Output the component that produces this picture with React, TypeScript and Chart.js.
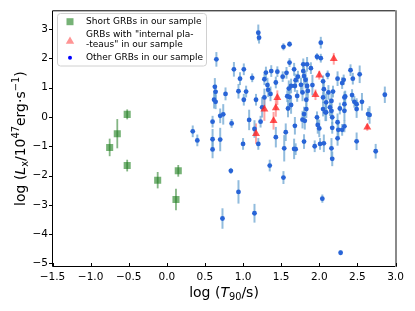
import { useEffect, useRef } from "react";
import { Chart, registerables } from "chart.js";
Chart.register(...registerables);

const FAMILY = "'DejaVu Sans', sans-serif";

// Axis limits & ticks
const xMin = -1.5;
const xMax = 3.0;
const xStep = 0.5;
const yMin = -5.11;
const yMax = 3.63;
const yStep = 1;

// Short GRBs (green squares)
const shortX = [-0.75, -0.65, -0.52, -0.52, -0.12, 0.12, 0.15];
const shortY = [-1.04, -0.57, 0.09, -1.66, -2.16, -2.82, -1.84];
const shortErr = [0.3, 0.5, 0.17, 0.2, 0.28, 0.37, 0.2];

// GRBs with internal plateaus (red triangles)
const plateauX = [2.19, 2.0, 1.95, 1.45, 1.43, 1.28, 1.4, 1.17, 2.63];
const plateauY = [1.99, 1.43, 0.76, 0.66, 0.31, 0.27, -0.13, -0.57, -0.35];
const plateauErr = [0.2, 0.15, 0.18, 0.25, 0.3, 0.4, 0.3, 0.35, 0.12];

// Other GRBs (blue dots)
const otherX = [
  1.2, 0.65, 0.88, 1.01, 0.96, 1.12, 0.63, 0.64, 0.77, 0.94, 1.04, 1.01, 1.17, 1.21, 1.53, 1.61,
  2.02, 1.97, 2.02, 1.61, 1.79, 1.84, 1.89, 2.11, 1.37, 1.3, 1.45, 1.67, 1.57, 1.52, 1.79, 1.8,
  1.72, 1.69, 1.76, 1.82, 1.84, 1.91, 2.05, 2.06, 1.28, 1.32, 1.43, 1.33, 1.6, 1.63, 1.68, 1.58,
  1.61, 1.71, 1.85, 1.78, 1.28, 1.36, 2.05, 2.12, 2.24, 2.3, 2.32, 2.41, 2.44, 2.53, 2.18, 2.34,
  2.43, 2.86, 0.34, 0.4, 0.62, 0.64, 0.6, 0.6, 0.6, 0.7, 0.74, 0.7, 0.85, 1.08, 1.0, 1.15,
  1.2, 1.25, 1.83, 1.23, 1.43, 1.56, 1.59, 1.63, 1.68, 1.67, 1.69, 1.54, 1.8, 1.78, 1.81, 1.8,
  1.83, 1.97, 1.98, 2.0, 1.94, 2.01, 2.06, 2.05, 2.08, 1.35, 2.09, 2.16, 2.14, 2.16, 2.09, 2.27,
  2.33, 2.33, 2.33, 2.46, 2.49, 2.56, 2.49, 2.17, 2.24, 2.17, 2.25, 2.3, 2.33, 2.24, 2.64, 2.66,
  2.49, 2.16, 2.17, 2.74, 0.84, 0.94, 0.73, 1.15, 1.53, 2.04, 2.28,
];
const otherY = [
  2.88, 1.97, 1.63, 1.63, 1.31, 1.34, 1.03, 0.86, 0.79, 0.88, 0.87, 0.59, 0.59, 2.71, 2.4, 2.49,
  2.54, 2.06, 2.01, 1.86, 1.8, 1.8, 1.67, 1.44, 1.57, 1.52, 1.55, 1.63, 1.51, 1.38, 1.57, 1.4,
  1.38, 1.26, 1.1, 1.27, 1.06, 1.09, 1.22, 0.95, 1.29, 1.09, 1.18, 0.93, 0.97, 1.06, 1.06, 0.71,
  0.68, 0.72, 0.89, 0.84, 0.67, 0.79, 0.67, 0.84, 1.31, 1.16, 1.27, 1.6, 1.31, 1.46, 0.87, 0.7,
  0.75, 0.76, -0.49, -0.8, 0.59, 0.52, -0.16, -0.76, -1.11, 0.04, 0.09, -0.77, -0.22, -0.1, -0.92, -0.41,
  -0.92, 0.33, 0.59, -0.16, -0.69, -0.52, 0.29, 0.41, -0.3, -1.09, -1.1, -1.07, -0.84, -0.09, -0.13, 0.1,
  0.27, -0.01, -0.27, -0.39, -1.0, -0.92, -0.9, 0.27, 0.16, -1.66, 0.5, 0.55, 0.33, 0.21, 0.16, 0.29,
  0.44, 0.67, 0.21, 0.52, 0.44, 0.52, 0.27, -0.01, -0.18, -0.37, -0.44, -0.44, -0.32, -0.73, 0.1, 0.07,
  -0.83, -1.07, -1.43, -1.17, -1.84, -2.56, -3.47, -3.29, -2.07, -2.79, -4.64,
];
const otherErr = [
  0.28, 0.25, 0.25, 0.2, 0.22, 0.15, 0.3, 0.25, 0.22, 0.25, 0.2, 0.2, 0.2, 0.2, 0.12, 0.1,
  0.2, 0.12, 0.15, 0.15, 0.2, 0.25, 0.2, 0.15, 0.2, 0.2, 0.18, 0.22, 0.2, 0.18, 0.25, 0.3,
  0.2, 0.22, 0.25, 0.3, 0.3, 0.35, 0.2, 0.3, 0.2, 0.25, 0.2, 0.25, 0.28, 0.25, 0.2, 0.2,
  0.3, 0.2, 0.25, 0.3, 0.3, 0.25, 0.2, 0.25, 0.25, 0.2, 0.18, 0.2, 0.2, 0.3, 0.2, 0.2,
  0.2, 0.28, 0.2, 0.2, 0.3, 0.25, 0.2, 0.35, 0.3, 0.25, 0.35, 0.4, 0.15, 0.35, 0.2, 0.3,
  0.2, 0.35, 0.35, 0.2, 0.35, 0.3, 0.3, 0.3, 0.3, 0.35, 0.2, 0.45, 0.25, 0.3, 0.3, 0.25,
  0.3, 0.2, 0.3, 0.3, 0.2, 0.2, 0.3, 0.25, 0.3, 0.2, 0.3, 0.25, 0.3, 0.25, 0.3, 0.2,
  0.25, 0.2, 0.35, 0.2, 0.2, 0.3, 0.3, 0.25, 0.3, 0.2, 0.25, 0.2, 0.2, 0.25, 0.2, 0.3,
  0.3, 0.35, 0.25, 0.25, 0.1, 0.4, 0.35, 0.32, 0.22, 0.14, 0.08,
];

const legendLabels = [
  ["Short GRBs in our sample"],
  ['GRBs with "internal pla-', '-teaus" in our sample'],
  ["Other GRBs in our sample"],
];

type Seg = { t: string; it?: boolean; sub?: boolean; sup?: boolean };
const xTitle: Seg[] = [{ t: "log (" }, { t: "T", it: true }, { t: "90", sub: true }, { t: "/s)" }];
const yTitle: Seg[] = [
  { t: "log (" },
  { t: "L", it: true },
  { t: "x", sub: true },
  { t: "/10" },
  { t: "47", sup: true },
  { t: "erg\u00b7s" },
  { t: "\u22121", sup: true },
  { t: ")" },
];

function drawRich(ctx: CanvasRenderingContext2D, segs: Seg[], size: number) {
  const fontFor = (s: Seg) =>
    `${s.it ? "italic " : ""}${s.sub || s.sup ? size * 0.7 : size}px ${FAMILY}`;
  let w = 0;
  for (const s of segs) {
    ctx.font = fontFor(s);
    w += ctx.measureText(s.t).width;
  }
  let x = -w / 2;
  ctx.textAlign = "left";
  ctx.textBaseline = "alphabetic";
  for (const s of segs) {
    ctx.font = fontFor(s);
    const dy = s.sub ? size * 0.2 : s.sup ? -size * 0.42 : 0;
    ctx.fillText(s.t, x, dy);
    x += ctx.measureText(s.t).width;
  }
}

const errorBarPlugin = {
  id: "errorBars",
  beforeDatasetsDraw(chart: any) {
    drawErrs(chart, false);
  },
  afterDatasetsDraw(chart: any) {
    drawErrs(chart, true);
  },
};

function drawErrs(chart: any, after: boolean) {
  const ctx = chart.ctx as CanvasRenderingContext2D;
  const xs = chart.scales.x;
  const ys = chart.scales.y;
  chart.data.datasets.forEach((ds: any) => {
    if (!ds.errs || !!ds.errAfter !== after) return;
    ctx.save();
    ctx.strokeStyle = ds.errColor;
    ctx.lineWidth = ds.errWidth;
    ds.data.forEach((p: any, i: number) => {
      const e = ds.errs[i];
      const px = xs.getPixelForValue(p.x);
      ctx.beginPath();
      ctx.moveTo(px, ys.getPixelForValue(p.y - e));
      ctx.lineTo(px, ys.getPixelForValue(p.y + e));
      ctx.stroke();
    });
    ctx.restore();
  });
}

const decorPlugin = {
  id: "decor",
  afterDraw(chart: any) {
    const ctx = chart.ctx as CanvasRenderingContext2D;
    const { left, right, top, bottom } = chart.chartArea;
    const xs = chart.scales.x;
    const ys = chart.scales.y;
    ctx.save();
    // frame
    ctx.strokeStyle = "#000";
    ctx.lineWidth = 1;
    ctx.beginPath();
    ctx.moveTo(left, top);
    ctx.lineTo(right, top);
    ctx.moveTo(left, top);
    ctx.lineTo(left, bottom);
    ctx.lineTo(right, bottom);
    ctx.stroke();
    ctx.strokeStyle = "#8a8a8a";
    ctx.lineWidth = 2;
    ctx.beginPath();
    ctx.moveTo(right + 0.5, top - 0.5);
    ctx.lineTo(right + 0.5, bottom + 0.5);
    ctx.stroke();
    // ticks
    ctx.strokeStyle = "#000";
    ctx.lineWidth = 1;
    ctx.beginPath();
    xs.ticks.forEach((t: any) => {
      const px = Math.round(xs.getPixelForValue(t.value)) + 0.5;
      ctx.moveTo(px, bottom);
      ctx.lineTo(px, bottom - 3.5);
    });
    ys.ticks.forEach((t: any) => {
      const py = Math.round(ys.getPixelForValue(t.value)) + 0.5;
      ctx.moveTo(left, py);
      ctx.lineTo(left - 3.5, py);
    });
    ctx.stroke();

    // axis titles
    ctx.fillStyle = "#000";
    ctx.save();
    ctx.translate((left + right) / 2, 297);
    drawRich(ctx, xTitle, 14);
    ctx.restore();
    ctx.save();
    ctx.translate(25, (top + bottom) / 2);
    ctx.rotate(-Math.PI / 2);
    drawRich(ctx, yTitle, 14);
    ctx.restore();

    // legend
    const bx = 57.5, by = 13.5, bw = 149, bh = 52.5;
    ctx.beginPath();
    (ctx as any).roundRect(bx, by, bw, bh, 3);
    ctx.fillStyle = "rgba(255,255,255,0.85)";
    ctx.fill();
    ctx.strokeStyle = "#d0d0d0";
    ctx.lineWidth = 1;
    ctx.stroke();

    const mx = 70;
    ctx.fillStyle = "rgba(60,145,60,0.7)";
    ctx.fillRect(mx - 3.5, 21.7 - 3.5, 7, 7);
    ctx.fillStyle = "rgba(255,60,60,0.55)";
    ctx.beginPath();
    ctx.moveTo(mx, 36.5);
    ctx.lineTo(mx + 4.2, 43.8);
    ctx.lineTo(mx - 4.2, 43.8);
    ctx.closePath();
    ctx.fill();
    ctx.fillStyle = "#0000ff";
    ctx.beginPath();
    ctx.arc(mx, 57.7, 2, 0, Math.PI * 2);
    ctx.fill();

    ctx.fillStyle = "#000";
    ctx.font = `9px ${FAMILY}`;
    ctx.textAlign = "left";
    ctx.textBaseline = "middle";
    const tx = 86;
    ctx.fillText(legendLabels[0][0], tx, 21.7);
    ctx.fillText(legendLabels[1][0], tx, 35);
    ctx.fillText(legendLabels[1][1], tx, 44.5);
    ctx.fillText(legendLabels[2][0], tx, 57.7);
    ctx.restore();
  },
};

const minus = (s: string) => s.replace("-", "\u2212");

export default function App() {
  const ref = useRef<HTMLCanvasElement>(null);
  useEffect(() => {
    document.body.style.margin = "0";
    const toPts = (xs: number[], ys: number[]) => xs.map((x, i) => ({ x, y: ys[i] }));
    const chart = new Chart(ref.current!, {
      type: "scatter",
      data: {
        datasets: [
          {
            label: legendLabels[1].join(""),
            data: toPts(plateauX, plateauY),
            pointStyle: "triangle",
            pointRadius: 4.6,
            backgroundColor: "rgba(255,25,25,0.75)",
            borderWidth: 0,
            errs: plateauErr,
            errColor: "rgba(255,90,90,0.55)",
            errWidth: 2,
          } as any,
          {
            label: legendLabels[0][0],
            data: toPts(shortX, shortY),
            pointStyle: "rect",
            pointRadius: 5,
            backgroundColor: "rgba(60,145,60,0.7)",
            borderWidth: 0,
            errs: shortErr,
            errColor: "rgba(30,120,30,0.55)",
            errWidth: 1.8,
            errAfter: true,
          } as any,
          {
            label: legendLabels[2][0],
            data: toPts(otherX, otherY),
            pointStyle: "circle",
            pointRadius: 2.4,
            backgroundColor: "rgb(40,100,215)",
            borderWidth: 0,
            errs: otherErr,
            errColor: "rgba(110,165,210,0.75)",
            errWidth: 2,
          } as any,
        ],
      },
      options: {
        animation: false,
        responsive: false,
        devicePixelRatio: 1,
        layout: { padding: { top: 9.5, right: 19.5, left: 0, bottom: 0 } },
        plugins: { legend: { display: false }, tooltip: { enabled: false } },
        scales: {
          x: {
            type: "linear",
            min: xMin,
            max: xMax,
            grid: { display: false, drawTicks: false },
            border: { display: false },
            ticks: {
              stepSize: xStep,
              includeBounds: false,
              color: "#000",
              padding: 4,
              maxRotation: 0,
              font: { family: FAMILY, size: 10.5 },
              callback: (v: any) => minus(Number(v).toFixed(1)),
            },
            afterFit: (s: any) => {
              s.height = 44.5;
            },
          },
          y: {
            type: "linear",
            min: yMin,
            max: yMax,
            grid: { display: false, drawTicks: false },
            border: { display: false },
            ticks: {
              stepSize: yStep,
              includeBounds: false,
              color: "#000",
              padding: 4.5,
              font: { family: FAMILY, size: 10.5 },
              callback: (v: any) => minus(String(Math.round(Number(v)))),
            },
            afterFit: (s: any) => {
              s.width = 52.5;
            },
          },
        },
      },
      plugins: [errorBarPlugin, decorPlugin],
    });
    return () => chart.destroy();
  }, []);
  return (
    <div style={{ width: 415, height: 311 }}>
      <canvas ref={ref} width={415} height={311} />
    </div>
  );
}
